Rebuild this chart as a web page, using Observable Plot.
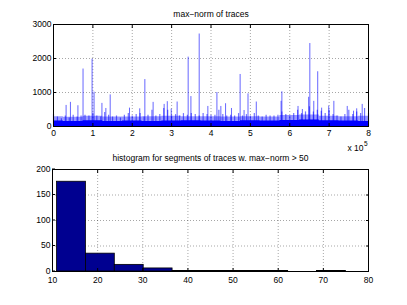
<!DOCTYPE html>
<html><head><meta charset="utf-8">
<script src="https://cdn.jsdelivr.net/npm/d3@7"></script>
<script src="https://cdn.jsdelivr.net/npm/@observablehq/plot@0.6"></script>
<style>body{margin:0;background:#fff} #c svg{display:block}</style>
</head><body><div id="c"></div>
<script>
const traceTitle = "max−norm of traces";
const histTitle = "histogram for segments of traces w. max−norm > 50";
const exponentBase = "x 10";
const exponentPower = "5";
const traceXTicks = [0,1,2,3,4,5,6,7,8];
const traceYTicks = [0,1000,2000,3000];

// solid low band (x in units of 1e5 samples)
const floorPos  = [0,0.5,1,1.5,2,2.5,3,3.5,4,4.5,5,5.5,6,6.5,7,7.5,8];
const floorVals = [160,150,170,150,160,150,160,170,160,150,170,160,180,190,170,160,150];
// light fuzzy band above it
const fuzzVals  = [290,270,300,280,280,290,300,290,290,280,290,280,320,340,300,290,300];

// dense minor peaks
const minorPos = [0,0.1,0.2,0.3,0.4,0.5,0.6,0.7,0.8,0.9,1,1.1,1.2,1.3,1.4,1.5,1.6,1.7,1.8,1.9,
  2,2.1,2.2,2.3,2.4,2.5,2.6,2.7,2.8,2.9,3,3.1,3.2,3.3,3.4,3.5,3.6,3.7,3.8,3.9,
  4,4.1,4.2,4.3,4.4,4.5,4.6,4.7,4.8,4.9,5,5.1,5.2,5.3,5.4,5.5,5.6,5.7,5.8,5.9,
  6,6.1,6.2,6.3,6.4,6.5,6.6,6.7,6.8,6.9,7,7.1,7.2,7.3,7.4,7.5,7.6,7.7,7.8,7.9,8];
const minorVals = [350,280,230,310,250,330,280,310,330,310,380,310,280,410,330,280,310,250,330,380,
  310,350,380,280,330,480,310,350,530,480,310,350,310,380,330,380,350,310,380,350,
  330,330,480,350,310,330,310,380,310,350,310,380,310,280,330,310,310,330,430,350,
  310,380,480,380,430,580,430,480,450,380,480,350,310,280,350,480,350,430,380,530,380];

// tall spikes
const spikePos  = [0.32,0.43,0.62,0.75,0.98,1.03,1.23,1.33,1.44,1.93,2.19,2.32,2.53,2.81,2.89,2.99,3.14,3.42,3.49,3.70,
  3.92,4.15,4.25,4.37,4.52,4.74,4.84,4.94,5.15,5.78,5.80,6.21,6.32,6.48,6.51,6.61,6.71,6.81,6.99,7.12,7.46,7.62,7.70,7.84];
const spikeVals = [620,710,610,1690,1980,1010,680,530,930,540,520,1380,710,650,730,510,720,2040,880,2720,
  590,1000,590,670,530,1530,470,960,720,740,1020,590,500,860,2440,740,1610,540,600,740,590,450,520,650];

// histogram
const binStart  = [11,17.4,23.8,30.2,36.6,43,49.4,55.8,62.2,68.6];
const binEnd    = [17.4,23.8,30.2,36.6,43,49.4,55.8,62.2,68.6,75];
const binCounts = [176,35,13,6,1,1,1,1,0,1];
const histXTicks = [10,20,30,40,50,60,70,80];
const histYTicks = [0,50,100,150,200];

const font = {fontFamily: "'Liberation Sans', Arial, Helvetica, sans-serif", fontSize: "8.5px", color: "#000", background: "#fff", overflow: "visible"};
const gridStyle = {stroke: "#000", strokeOpacity: 0.35, strokeDasharray: "1,2"};
const blue = "#0000ff";
const plain = d => String(d);

const floorData = floorPos.map((x, i) => ({x, v: floorVals[i], f: fuzzVals[i]}));
const minorData = minorPos.map((x, i) => ({x, v: minorVals[i]}));
const spikeData = spikePos.map((x, i) => ({x, v: spikeVals[i]}));
const bins = binStart.map((x1, i) => ({x1, x2: binEnd[i], n: binCounts[i]})).filter(d => d.n > 0);

const topChart = Plot.plot({
  width: 407, height: 152,
  marginTop: 24, marginBottom: 26, marginLeft: 53, marginRight: 39,
  x: {domain: [0, 8], label: null},
  y: {domain: [0, 3000], label: null},
  style: font,
  marks: [
    Plot.gridX(traceXTicks, gridStyle),
    Plot.gridY(traceYTicks, gridStyle),
    Plot.areaY(floorData, {x: "x", y: "f", fill: blue, fillOpacity: 0.4, curve: "step"}),
    Plot.areaY(floorData, {x: "x", y: "v", fill: blue, curve: "step"}),
    Plot.ruleX(minorData, {x: "x", y1: 0, y2: "v", stroke: blue, strokeOpacity: 0.55, strokeWidth: 1.2}),
    Plot.ruleX(spikeData, {x: "x", y1: 0, y2: "v", stroke: blue, strokeOpacity: 0.6}),
    Plot.frame({stroke: "#000"}),
    Plot.axisX(traceXTicks, {anchor: "bottom", tickSize: -3, tickPadding: 6, label: null, tickFormat: plain}),
    Plot.axisX(traceXTicks, {anchor: "top", tickSize: -3, tickFormat: () => "", label: null}),
    Plot.axisY(traceYTicks, {anchor: "left", tickSize: -3, tickPadding: 5, label: null, tickFormat: plain}),
    Plot.axisY(traceYTicks, {anchor: "right", tickSize: -3, tickFormat: () => "", label: null}),
    Plot.text([traceTitle], {frameAnchor: "top", dy: -10, lineAnchor: "middle", fontSize: 8.5}),
    Plot.text([exponentBase], {frameAnchor: "bottom-right", textAnchor: "end", lineAnchor: "middle", dx: -5, dy: 21.5, fontSize: 8.5}),
    Plot.text([exponentPower], {frameAnchor: "bottom-right", textAnchor: "start", lineAnchor: "middle", dx: -4.5, dy: 17, fontSize: 6.5})
  ]
});

const histChart = Plot.plot({
  width: 407, height: 153,
  marginTop: 17, marginBottom: 34, marginLeft: 52, marginRight: 39,
  x: {domain: [10, 80], label: null},
  y: {domain: [0, 200], label: null},
  style: font,
  marks: [
    Plot.gridX(histXTicks, gridStyle),
    Plot.gridY(histYTicks, gridStyle),
    Plot.rectY(bins, {x1: "x1", x2: "x2", y: "n", fill: "#000090", stroke: "#000", strokeWidth: 0.8}),
    Plot.frame({stroke: "#000"}),
    Plot.axisX(histXTicks, {anchor: "bottom", tickSize: -3, tickPadding: 8, label: null, tickFormat: plain}),
    Plot.axisX(histXTicks, {anchor: "top", tickSize: -3, tickFormat: () => "", label: null}),
    Plot.axisY(histYTicks, {anchor: "left", tickSize: -3, tickPadding: 5, label: null, tickFormat: plain, dy: -0.5}),
    Plot.axisY(histYTicks, {anchor: "right", tickSize: -3, tickFormat: () => "", label: null}),
    Plot.text([histTitle], {frameAnchor: "top", dy: -11.5, lineAnchor: "middle", fontSize: 8.5})
  ]
});

document.getElementById("c").append(topChart, histChart);
</script>
</body></html>
